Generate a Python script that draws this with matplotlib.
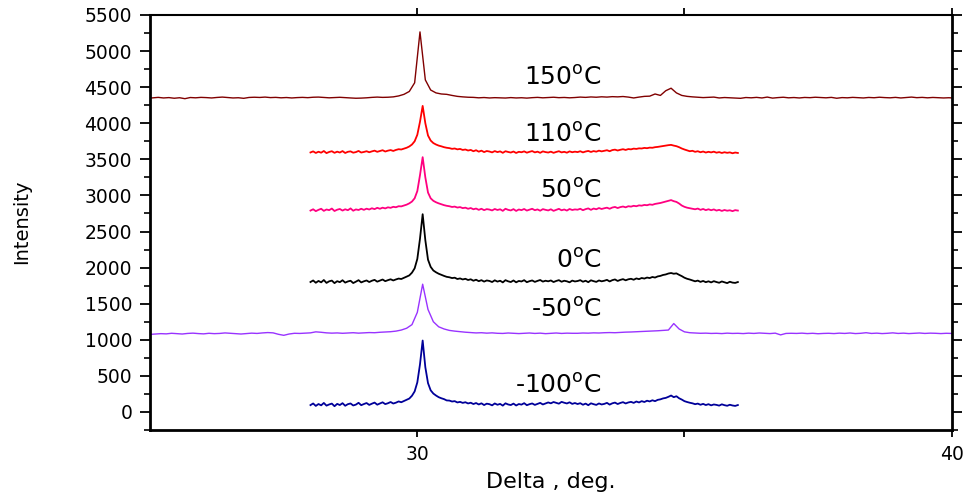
import numpy as np
import matplotlib
matplotlib.use("Agg")
import matplotlib.pyplot as plt
from matplotlib.ticker import MultipleLocator, FixedLocator

# ---------------- data ----------------
# noisy scans: 28.00 .. 36.00 deg, step 0.05
NOISY_X0, NOISY_STEP = 28.0, 0.05
# smooth scans: step 0.1
T150_X0, TM50_X0, SMOOTH_STEP = 24.95, 25.0, 0.1

y_m100 = [
    95, 118, 84, 110, 92, 125, 88, 104, 116, 80,
    112, 96, 122, 86, 108, 118, 90, 102, 127, 94,
    110, 124, 98, 115, 130, 101, 118, 134, 109, 121,
    138, 117, 129, 146, 135, 152, 170, 186, 225, 285,
    410, 660, 990, 620, 400, 300, 255, 228, 205, 190,
    178, 160, 158, 145, 150, 132, 140, 126, 135, 118,
    128, 110, 124, 104, 120, 96, 115, 108, 92, 118,
    100, 112, 88, 120, 104, 96, 116, 90, 110, 102,
    122, 94, 108, 118, 98, 112, 126, 104, 118, 132,
    120, 138, 126, 115, 140, 128, 118, 134, 112, 124,
    110, 122, 100, 116, 94, 120, 108, 98, 118, 104,
    112, 126, 102, 120, 130, 110, 125, 136, 118, 132,
    140, 126, 145, 132, 150, 138, 156, 146, 162, 150,
    168, 175, 188, 195, 210, 228, 205, 218, 190, 172,
    150, 138, 128, 120, 108, 116, 100, 112, 96, 108,
    92, 104, 98, 88, 106, 94, 86, 100, 90, 84, 96]

y_0 = [
    1800, 1822, 1790, 1815, 1796, 1828, 1788, 1810, 1820, 1785,
    1812, 1798, 1825, 1792, 1808, 1818, 1786, 1805, 1826, 1795,
    1810, 1822, 1800, 1818, 1830, 1805, 1820, 1835, 1812, 1826,
    1838, 1822, 1836, 1848, 1842, 1858, 1875, 1892, 1930, 1990,
    2120, 2400, 2740, 2380, 2110, 2010, 1960, 1935, 1915, 1900,
    1885, 1872, 1866, 1855, 1860, 1842, 1850, 1836, 1845, 1828,
    1838, 1818, 1832, 1812, 1826, 1806, 1822, 1815, 1800, 1824,
    1806, 1818, 1795, 1826, 1810, 1800, 1822, 1796, 1815, 1808,
    1826, 1798, 1812, 1822, 1802, 1816, 1828, 1806, 1818, 1810,
    1822, 1800, 1815, 1826, 1804, 1818, 1810, 1796, 1820, 1808,
    1814, 1826, 1804, 1818, 1798, 1824, 1812, 1802, 1822, 1810,
    1818, 1830, 1808, 1826, 1836, 1815, 1830, 1840, 1824, 1838,
    1845, 1832, 1850, 1840, 1856, 1848, 1862, 1855, 1870, 1862,
    1878, 1885, 1898, 1905, 1918, 1925, 1915, 1920, 1900, 1882,
    1860, 1845, 1835, 1822, 1810, 1820, 1802, 1815, 1798, 1810,
    1795, 1812, 1800, 1790, 1808, 1796, 1785, 1804, 1792, 1788, 1800]

y_50 = [
    2790, 2808, 2782, 2800, 2815, 2786, 2805, 2796, 2818, 2784,
    2802, 2812, 2790, 2808, 2795, 2820, 2788, 2806, 2798, 2815,
    2800, 2816, 2805, 2822, 2810, 2828, 2815, 2830, 2820, 2835,
    2828, 2842, 2836, 2850, 2848, 2860, 2872, 2890, 2915, 2960,
    3060, 3280, 3530, 3250, 3040, 2960, 2925, 2905, 2890, 2878,
    2865, 2856, 2850, 2840, 2845, 2832, 2838, 2824, 2830, 2815,
    2825, 2808, 2818, 2800, 2815, 2796, 2810, 2804, 2792, 2812,
    2798, 2808, 2786, 2815, 2800, 2792, 2810, 2785, 2805, 2796,
    2812, 2790, 2802, 2815, 2795, 2806, 2788, 2810, 2800, 2792,
    2808, 2786, 2800, 2814, 2794, 2805, 2790, 2812, 2798, 2806,
    2802, 2815, 2795, 2810, 2820, 2800, 2818, 2808, 2825, 2812,
    2822, 2830, 2815, 2832, 2840, 2825, 2838, 2846, 2835, 2850,
    2845, 2856, 2850, 2862, 2858, 2868, 2864, 2875, 2870, 2882,
    2888, 2895, 2905, 2915, 2925, 2935, 2920, 2910, 2888, 2860,
    2842, 2830, 2822, 2815, 2808, 2818, 2800, 2812, 2796, 2808,
    2795, 2806, 2790, 2800, 2785, 2798, 2788, 2794, 2782, 2796, 2790]

y_110 = [
    3595, 3610, 3588, 3605, 3592, 3615, 3586, 3602, 3612, 3590,
    3606, 3594, 3614, 3588, 3604, 3610, 3592, 3600, 3616, 3594,
    3602, 3612, 3598, 3610, 3620, 3604, 3615, 3626, 3608, 3620,
    3628, 3616, 3630, 3640, 3636, 3648, 3660, 3678, 3705, 3750,
    3840, 4020, 4240, 4000, 3830, 3760, 3725, 3705, 3690, 3680,
    3668, 3660, 3655, 3645, 3650, 3638, 3644, 3630, 3636, 3622,
    3630, 3612, 3626, 3606, 3620, 3600, 3615, 3608, 3596, 3614,
    3600, 3610, 3590, 3612, 3602, 3594, 3608, 3588, 3604, 3598,
    3610, 3592, 3604, 3614, 3596, 3606, 3590, 3610, 3600, 3594,
    3606, 3590, 3602, 3612, 3596, 3604, 3592, 3610, 3598, 3606,
    3600, 3612, 3596, 3608, 3616, 3602, 3614, 3606, 3620, 3610,
    3618, 3626, 3612, 3628, 3634, 3622, 3632, 3640, 3630, 3642,
    3638, 3648, 3644, 3652, 3650, 3658, 3654, 3662, 3660, 3668,
    3672, 3678, 3684, 3690, 3696, 3700, 3690, 3682, 3668, 3650,
    3636, 3624, 3612, 3618, 3604, 3612, 3598, 3608, 3594, 3604,
    3596, 3606, 3592, 3600, 3588, 3598, 3590, 3596, 3584, 3594, 3588]

y_150 = [
    4345, 4352, 4358, 4350, 4355, 4346, 4353, 4340, 4356, 4352,
    4358, 4355, 4350, 4357, 4362, 4356, 4350, 4353, 4345, 4357,
    4360, 4357, 4362, 4355, 4358, 4352, 4356, 4350, 4355, 4358,
    4354, 4360, 4362, 4357, 4352, 4356, 4359, 4354, 4350, 4346,
    4348, 4352, 4358, 4362, 4358, 4360, 4365, 4378, 4400, 4440,
    4560, 5265, 4600, 4460, 4420, 4405, 4400, 4385, 4372, 4365,
    4360, 4358, 4352, 4356, 4350, 4354, 4352, 4349, 4355, 4350,
    4353, 4348, 4354, 4358, 4352, 4356, 4360, 4354, 4357, 4352,
    4356, 4362, 4358, 4364, 4360, 4366, 4362, 4368, 4365, 4370,
    4362, 4350, 4362, 4372, 4375, 4405, 4385, 4450, 4485, 4420,
    4385, 4372, 4365, 4360, 4355, 4358, 4362, 4350, 4356, 4352,
    4348, 4345, 4356, 4352, 4358, 4350, 4362, 4348, 4355, 4360,
    4352, 4356, 4350, 4357, 4354, 4360, 4356, 4352, 4358, 4346,
    4355, 4352, 4358, 4354, 4350, 4357, 4353, 4360, 4355, 4352,
    4358, 4350, 4356, 4362, 4354, 4358, 4352, 4357, 4354, 4350, 4353, 4348]

y_m50 = [
    1075, 1080, 1085, 1082, 1090, 1085, 1080, 1088, 1092, 1086,
    1082, 1090, 1085, 1088, 1095, 1090, 1084, 1080, 1086, 1092,
    1088, 1095, 1100, 1096, 1076, 1062, 1080, 1090, 1088, 1092,
    1096, 1110, 1104, 1096, 1092, 1095, 1090, 1094, 1098, 1092,
    1096, 1100, 1098, 1104, 1108, 1112, 1120, 1135, 1160, 1210,
    1380, 1770, 1420, 1250, 1180, 1150, 1130, 1120, 1112, 1105,
    1100, 1095, 1098, 1092, 1096, 1090, 1088, 1094, 1090, 1086,
    1090, 1094, 1088, 1092, 1085, 1090, 1094, 1088, 1092, 1090,
    1090, 1094, 1092, 1096, 1094, 1098, 1100, 1098, 1102, 1106,
    1108, 1112, 1115, 1118, 1122, 1125, 1130, 1135, 1225, 1150,
    1110, 1098, 1094, 1090, 1092, 1088, 1090, 1086, 1092, 1088,
    1090, 1086, 1092, 1088, 1094, 1090, 1086, 1092, 1068, 1088,
    1090, 1088, 1092, 1086, 1090, 1084, 1088, 1090, 1086, 1092,
    1088, 1094, 1086, 1090, 1098, 1088, 1092, 1086, 1090, 1096,
    1088, 1092, 1086, 1090, 1094, 1088, 1092, 1090, 1086, 1090, 1088]

labels = ["150$^{\\mathrm{o}}$C", "110$^{\\mathrm{o}}$C", "50$^{\\mathrm{o}}$C",
          "0$^{\\mathrm{o}}$C", "-50$^{\\mathrm{o}}$C", "-100$^{\\mathrm{o}}$C"]

# ---------------- plot ----------------
plt.rcParams["font.family"] = ["DejaVu Sans"]
plt.rcParams["mathtext.fontset"] = "dejavusans"

fig = plt.figure(figsize=(9.69, 4.98), dpi=100)
ax = fig.add_axes([0.155, 0.1365, 0.827, 0.8335])

series = [
    (T150_X0, SMOOTH_STEP, y_150, "#800000", 1.0),
    (NOISY_X0, NOISY_STEP, y_110, "#ff0000", 1.3),
    (NOISY_X0, NOISY_STEP, y_50, "#ff0080", 1.3),
    (NOISY_X0, NOISY_STEP, y_0, "#000000", 1.3),
    (TM50_X0, SMOOTH_STEP, y_m50, "#9933ff", 1.0),
    (NOISY_X0, NOISY_STEP, y_m100, "#000099", 1.3),
]
for x0, step, y, col, lw in series:
    x = x0 + step * np.arange(len(y))
    ax.plot(x, y, color=col, lw=lw)

# label placement (data coords, text right edge / baseline)
lab_x = 33.45
lab_y = [4530, 3740, 2960, 1992, 1313, 259]
for txt, yy in zip(labels, lab_y):
    ax.text(lab_x, yy, txt, ha="right", va="baseline", fontsize=18)

ax.set_xlim(25, 40)
ax.set_ylim(-250, 5500)
ax.xaxis.set_major_locator(FixedLocator([30, 40]))
ax.xaxis.set_minor_locator(FixedLocator([35]))
ax.yaxis.set_major_locator(MultipleLocator(500))
ax.yaxis.set_minor_locator(MultipleLocator(250))

ax.tick_params(axis="y", which="major", direction="out", length=7, width=1.3,
               labelsize=13.5, pad=6, right=True)
ax.tick_params(axis="y", which="minor", direction="out", length=4, width=1.2, right=True)
ax.tick_params(axis="x", which="both", direction="out", length=5, width=1.3,
               labelsize=13.5, pad=6, top=True)
for s in ["left", "bottom", "right"]:
    ax.spines[s].set_linewidth(2.0)
ax.spines["top"].set_linewidth(1.5)

fig.text(22 / 969, 1 - 222 / 498, "Intensity", rotation=90, ha="center", va="center",
         fontsize=14)
fig.text(551 / 969, 1 - 482 / 498, "Delta , deg.", ha="center", va="center", fontsize=16)

plt.savefig("out.png", dpi=100)
plt.close("all")
